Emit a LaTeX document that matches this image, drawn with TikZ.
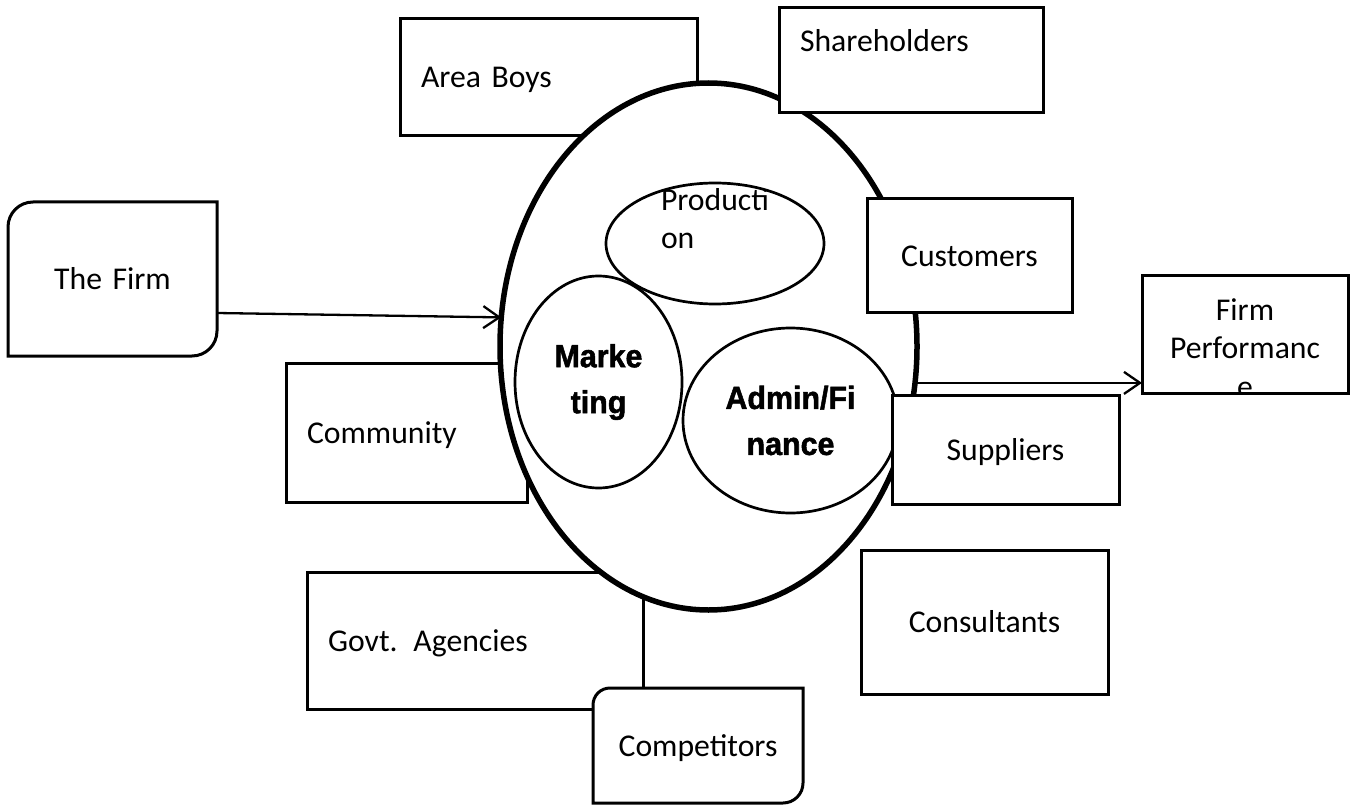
\documentclass[tikz,border=0pt]{standalone}
\usepackage{fontspec}
\setmainfont{Carlito}
\newfontfamily\deptfont[FakeStretch=0.95, BoldFeatures={FakeBold=1.6}]{Liberation Sans}
\usepackage{tikz}
\usetikzlibrary{
  shapes.geometric,
  arrows.meta
}

\begin{document}
\begin{tikzpicture}[x=1pt, y=-1pt,
    every node/.style={inner ysep=0pt, outer sep=0pt, font=\fontsize{31.7pt}{38.5pt}\selectfont},
    actor/.style={draw, line width=3pt, fill=white, rectangle, inner xsep=21pt, text height=22pt, text depth=1pt},
    cornerbox/.style={actor, draw=none},
    dept/.style={draw, line width=2.7pt, fill=white, ellipse, inner sep=0pt},
    bolddept/.style={dept, align=center, font={\deptfont\bfseries\fontsize{32pt}{46pt}\selectfont}},
    flow/.style={line width=2.3pt, -{Straight Barb[length=16pt, width=22pt]}}]
\useasboundingbox (0,0) rectangle (1354,805);

\node [actor, text width=255pt, align=left, minimum height=117pt] (area) at (548.5,77.5) {Area Boys};
\node [actor, text width=199pt, align=left, minimum height=139pt] (community) at (406.5,432.5) {Community};
\node [actor, text width=294pt, align=left, minimum height=137pt] (govt) at (475,640.5) {Govt. Agencies};

\node [cornerbox, text width=168pt, align=center, minimum height=115pt] (comp) at (698,745.5) {Competitors};
\draw [line width=3pt] (comp.south west) -- ([yshift=-17pt]comp.north west) arc[start angle=180, end angle=90, radius=17pt]
  -- (comp.north east) -- ([yshift=20pt]comp.south east) arc[start angle=0, end angle=-90, radius=20pt] -- cycle;

\node [cornerbox, text width=167pt, align=center, minimum height=154pt] (firm) at (112.5,279) {The Firm};
\draw [line width=3pt] (firm.south west) -- ([yshift=-25pt]firm.north west) arc[start angle=180, end angle=90, radius=25pt]
  -- (firm.north east) -- ([yshift=25pt]firm.south east) arc[start angle=0, end angle=-90, radius=25pt] -- cycle;

\node [ellipse, draw, line width=5.5pt, fill=white, inner sep=0pt, minimum width=417pt, minimum height=527pt] (org) at (708.5,346.5) {};

\node [dept, minimum width=218pt, minimum height=121pt,
  path picture={\node [align=left] at ([yshift=25pt]path picture bounding box.center) {Producti\\on};}] (prod) at (715,243.5) {};
\node [bolddept, minimum width=167pt, minimum height=212pt] (mkt) at (598.5,382) {Marke\\ting};
\node [bolddept, minimum width=215pt, minimum height=185pt] (admin) at (790.5,420.5) {Admin/Fi\\nance};

\node [actor, text width=222pt, align=left, minimum height=105pt, text depth=39pt] (share) at (911,60.5) {Shareholders};
\node [actor, text width=163pt, align=center, minimum height=113pt] (cust) at (969.5,255.5) {Customers};
\node [actor, text width=185pt, align=center, minimum height=109pt] (supp) at (1005.5,449.5) {Suppliers};
\node [actor, text width=205pt, align=center, minimum height=144pt] (cons) at (984.5,622) {Consultants};

\node [draw, line width=3pt, fill=white, rectangle, minimum width=206pt, minimum height=118pt,
  path picture={\node [align=center] at ([yshift=-14pt]path picture bounding box.center) {Firm\\Performanc\\e};}] (perf) at (1245,334) {};

\draw [flow] ([yshift=-34pt]firm.east) -- (org.172);
\draw [flow] (org.350) -- (org.350 -| perf.west);
\end{tikzpicture}
\end{document}
